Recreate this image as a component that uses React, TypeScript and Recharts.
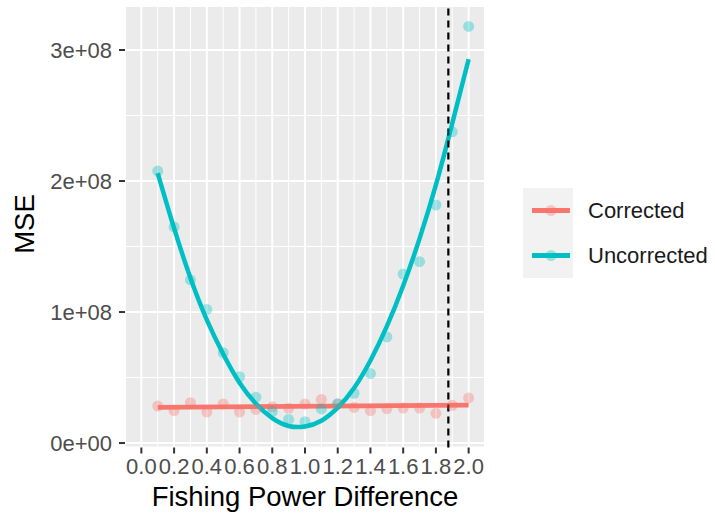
import {
  CartesianGrid,
  ComposedChart,
  Label,
  Legend,
  Line,
  ReferenceLine,
  Scatter,
  XAxis,
  YAxis,
} from "recharts";

const powerDiff = [
  0.1, 0.2, 0.3, 0.4, 0.5, 0.6, 0.7, 0.8, 0.9, 1.0, 1.1, 1.2, 1.3, 1.4, 1.5,
  1.6, 1.7, 1.8, 1.9, 2.0,
];

// MSE readings, in units of 1e8
const correctedMse = [
  0.282, 0.247, 0.308, 0.237, 0.298, 0.237, 0.257, 0.277, 0.265, 0.298, 0.333,
  0.298, 0.272, 0.247, 0.262, 0.267, 0.267, 0.227, 0.288, 0.344,
];
const uncorrectedMse = [
  2.076, 1.65, 1.245, 1.02, 0.69, 0.506, 0.35, 0.24, 0.18, 0.163, 0.26, 0.3,
  0.38, 0.53, 0.81, 1.29, 1.384, 1.817, 2.376, 3.18,
];

// smoothed fits
const correctedFitX = [0.1, 2.0];
const correctedFit = [0.272, 0.29];
const uncorrectedFit = [
  2.06, 1.64, 1.26, 0.94, 0.68, 0.46, 0.3, 0.19, 0.13, 0.126, 0.17, 0.27,
  0.42, 0.63, 0.89, 1.2, 1.56, 1.97, 2.44, 2.93,
];

const xTicks = [0, 0.2, 0.4, 0.6, 0.8, 1.0, 1.2, 1.4, 1.6, 1.8, 2.0];
const xMinor = [0.1, 0.3, 0.5, 0.7, 0.9, 1.1, 1.3, 1.5, 1.7, 1.9];
const yTicks = [0, 1e8, 2e8, 3e8];
const yMinor = [0.5e8, 1.5e8, 2.5e8];
const cutoff = 1.876;

const seriesNames = ["Corrected", "Uncorrected"];
const RED = "#F8766D";
const CYAN = "#00BFC4";
const FONT = "'Liberation Sans', Arial, sans-serif";

const toRows = (xs: number[], ys: number[]) =>
  xs.map((x, i) => ({ x, mse: ys[i] * 1e8 }));

const correctedPts = toRows(powerDiff, correctedMse);
const uncorrectedPts = toRows(powerDiff, uncorrectedMse);
const correctedLine = toRows(correctedFitX, correctedFit);
const uncorrectedLine = toRows(powerDiff, uncorrectedFit);

const fmtY = (v: number) =>
  v === 0 ? "0e+00" : `${Math.round(v / 1e8)}e+08`;

const dot = (color: string) => (p: any) =>
  <circle cx={p.cx} cy={p.cy} r={5.5} fill={color} fillOpacity={0.35} />;

function LegendBox() {
  const colors = [RED, CYAN];
  return (
    <div style={{ position: "relative", width: 192, height: 90, fontFamily: FONT }}>
      <div
        style={{
          position: "absolute",
          left: 0,
          top: 0,
          width: 50,
          height: 90,
          background: "#F2F2F2",
        }}
      />
      {seriesNames.map((name, i) => (
        <div key={name}>
          <svg
            width={50}
            height={45}
            style={{ position: "absolute", left: 0, top: i * 45 }}
          >
            <line x1={9} x2={47} y1={22.5} y2={22.5} stroke={colors[i]} strokeWidth={5} />
            <circle cx={28} cy={22.5} r={5.5} fill={colors[i]} fillOpacity={0.35} />
          </svg>
          <div
            style={{
              position: "absolute",
              left: 65,
              top: i * 45,
              lineHeight: "45px",
              fontSize: 22,
              color: "#1a1a1a",
              whiteSpace: "nowrap",
            }}
          >
            {name}
          </div>
        </div>
      ))}
    </div>
  );
}

export default function App() {
  return (
    <div style={{ position: "absolute", left: 0, top: 0, background: "#fff" }}>
      <ComposedChart
        width={715}
        height={517}
        margin={{ top: 6, right: 230, bottom: 0, left: 0 }}
      >
        <CartesianGrid fill="#EBEBEB" stroke="#fff" strokeWidth={2} />
        {xMinor.map((v) => (
          <ReferenceLine key={`vx${v}`} x={v} stroke="#fff" strokeWidth={1} />
        ))}
        {yMinor.map((v) => (
          <ReferenceLine key={`hy${v}`} y={v} stroke="#fff" strokeWidth={1} />
        ))}
        <XAxis
          dataKey="x"
          type="number"
          domain={[-0.1, 2.1]}
          ticks={xTicks}
          tickFormatter={(v: number) => v.toFixed(1)}
          allowDataOverflow
          height={69.5}
          axisLine={false}
          tickLine={{ stroke: "#333", strokeWidth: 2 }}
          tickSize={6}
          tickMargin={5}
          tick={{ fontSize: 22, fill: "#4D4D4D", fontFamily: FONT }}
          interval={0}
        >
          <Label
            value="Fishing Power Difference"
            position="insideBottom"
            offset={11}
            style={{ fontSize: 27.5, fill: "#000", fontFamily: FONT }}
          />
        </XAxis>
        <YAxis
          type="number"
          domain={[-3.4e6, 3.336e8]}
          ticks={yTicks}
          tickFormatter={fmtY}
          allowDataOverflow
          width={125}
          axisLine={false}
          tickLine={{ stroke: "#333", strokeWidth: 2 }}
          tickSize={6}
          tickMargin={7}
          tick={{ fontSize: 22, fill: "#4D4D4D", fontFamily: FONT }}
        >
          <Label
            content={() => (
              <text
                x={24}
                y={224}
                transform="rotate(-90, 24, 224)"
                textAnchor="middle"
                dominantBaseline="central"
                style={{ fontSize: 27.5, fill: "#000", fontFamily: FONT }}
              >
                MSE
              </text>
            )}
          />
        </YAxis>
        <Legend
          layout="vertical"
          align="center"
          verticalAlign="middle"
          content={() => <LegendBox />}
          wrapperStyle={{ left: 523, top: 188, width: 192 }}
        />
        <Scatter
          name="Corrected points"
          data={correctedPts}
          dataKey="mse"
          shape={dot(RED)}
          legendType="none"
          isAnimationActive={false}
        />
        <Scatter
          name="Uncorrected points"
          data={uncorrectedPts}
          dataKey="mse"
          shape={dot(CYAN)}
          legendType="none"
          isAnimationActive={false}
        />
        <Line
          name="Corrected"
          data={correctedLine}
          dataKey="mse"
          type="linear"
          stroke={RED}
          strokeWidth={4.8}
          dot={false}
          isAnimationActive={false}
        />
        <Line
          name="Uncorrected"
          data={uncorrectedLine}
          dataKey="mse"
          type="natural"
          stroke={CYAN}
          strokeWidth={4.5}
          dot={false}
          isAnimationActive={false}
        />
        <ReferenceLine
          x={cutoff}
          stroke="#000"
          strokeWidth={2.2}
          strokeDasharray="7 5"
        />
      </ComposedChart>
    </div>
  );
}
